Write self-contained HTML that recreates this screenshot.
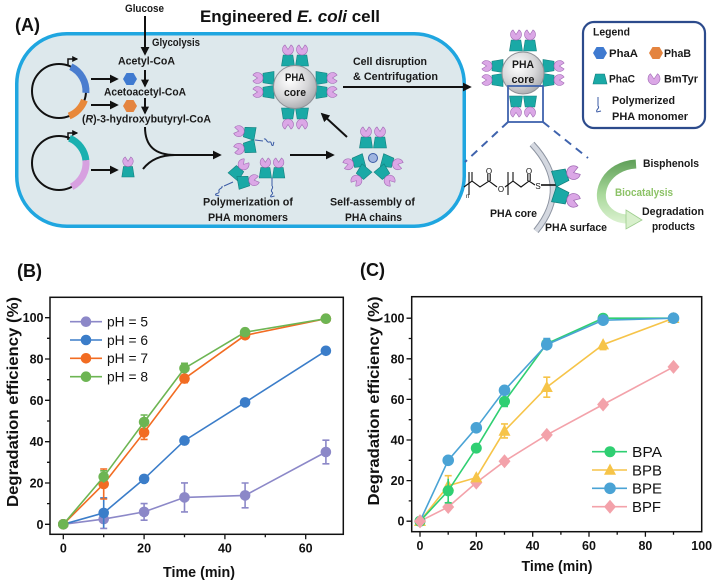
<!DOCTYPE html>
<html><head><meta charset="utf-8"><style>
html,body{margin:0;padding:0;background:#fff;}
svg{display:block;}
text{font-family:"Liberation Sans",Arial,sans-serif;}
</style></head><body>
<svg width="717" height="583" viewBox="0 0 717 583" xmlns="http://www.w3.org/2000/svg">
<defs>
 <marker id="ah" viewBox="0 0 10 10" refX="8" refY="5" markerWidth="4.5" markerHeight="4.5" orient="auto"><path d="M0,0 L10,5 L0,10 z" fill="#111"/></marker>
 <marker id="ahs" viewBox="0 0 10 10" refX="8" refY="5" markerWidth="4" markerHeight="4" orient="auto"><path d="M0,0 L10,5 L0,10 z" fill="#111"/></marker>
 <g id="enz">
  <path d="M-6.5,0 L6.5,0 L4.8,-11 L-4.8,-11Z" fill="#1aa9a6" stroke="#127e7c" stroke-width=".6"/>
  <path d="M0,-16.5 L-3,-21.1 A5.5,5.5 0 1,0 3,-21.1Z" fill="#dba7e6" stroke="#a06ab4" stroke-width=".6"/>
 </g>
 <g id="pair"><use href="#enz" x="-7"/><use href="#enz" x="7"/></g>
 <polygon id="hex" points="7,0 3.5,6 -3.5,6 -7,0 -3.5,-6 3.5,-6"/>
 <path id="sq" d="M0,0 c2.5,2 -2.5,4 0,6 c2.5,2 -3,3.5 -1,5 l3.5,-1" fill="none" stroke="#3b5ba5" stroke-width="1"/>
 <radialGradient id="core" cx="0.38" cy="0.35" r="0.7"><stop offset="0" stop-color="#ffffff"/><stop offset="0.6" stop-color="#d6d6d8"/><stop offset="1" stop-color="#a9aaae"/></radialGradient>
 <linearGradient id="garr" x1="0" y1="160" x2="0" y2="228" gradientUnits="userSpaceOnUse"><stop offset="0" stop-color="#5f9f58"/><stop offset="0.5" stop-color="#a8d89a"/><stop offset="1" stop-color="#e4f6da"/></linearGradient>
</defs>

<!-- ===== Panel A ===== -->
<text x="15" y="31" font-size="18" font-weight="bold" fill="#111">(A)</text>
<text x="125" y="12" font-size="11" font-weight="bold" fill="#1a1a1a" textLength="39" lengthAdjust="spacingAndGlyphs">Glucose</text>
<text x="200" y="22" font-size="16.5" font-weight="bold" fill="#111" textLength="180" lengthAdjust="spacingAndGlyphs">Engineered <tspan font-style="italic">E. coli</tspan> cell</text>

<rect x="16.75" y="33.75" width="447.5" height="192.5" rx="50" ry="50" fill="#dde8ec" stroke="#1fa6e0" stroke-width="3.5"/>

<line x1="145" y1="16" x2="145" y2="54" stroke="#111" stroke-width="2" marker-end="url(#ah)"/>
<text x="152" y="46" font-size="11" font-weight="bold" fill="#1a1a1a" textLength="48" lengthAdjust="spacingAndGlyphs">Glycolysis</text>
<text x="118" y="64.5" font-size="11" font-weight="bold" fill="#1a1a1a" textLength="57" lengthAdjust="spacingAndGlyphs">Acetyl-CoA</text>
<line x1="145" y1="70" x2="145" y2="86" stroke="#111" stroke-width="2" marker-end="url(#ahs)"/>
<text x="104" y="95.3" font-size="11" font-weight="bold" fill="#1a1a1a" textLength="82" lengthAdjust="spacingAndGlyphs">Acetoacetyl-CoA</text>
<line x1="145" y1="98" x2="145" y2="113" stroke="#111" stroke-width="2" marker-end="url(#ahs)"/>
<text x="82" y="122.7" font-size="11" font-weight="bold" fill="#1a1a1a" textLength="129" lengthAdjust="spacingAndGlyphs">(<tspan font-style="italic">R</tspan>)-3-hydroxybutyryl-CoA</text>

<use href="#hex" x="130" y="79" fill="#3f7ad0"/>
<use href="#hex" x="130" y="106" fill="#e4843f"/>

<circle cx="59" cy="91" r="27" fill="none" stroke="#111" stroke-width="2"/>
<path d="M70.8,66.7 A27,27 0 0,1 85.9,92.9" fill="none" stroke="#4a7dcf" stroke-width="7"/>
<path d="M84.4,100.2 A27,27 0 0,1 69.1,116" fill="none" stroke="#e8883a" stroke-width="7"/>
<path d="M68,66 L68,59 L77,59" fill="none" stroke="#111" stroke-width="1.5" marker-end="url(#ahs)"/>
<circle cx="59" cy="163" r="27" fill="none" stroke="#111" stroke-width="2"/>
<path d="M69.5,138.2 A27,27 0 0,1 85.9,160.2" fill="none" stroke="#1bb0b0" stroke-width="7"/>
<path d="M85.9,160.2 A27,27 0 0,1 71.7,186.8" fill="none" stroke="#d7a0e0" stroke-width="7"/>
<path d="M68,140 L68,133 L77,133" fill="none" stroke="#111" stroke-width="1.5" marker-end="url(#ahs)"/>

<line x1="91" y1="79" x2="117" y2="79" stroke="#111" stroke-width="2" marker-end="url(#ah)"/>
<line x1="91" y1="105" x2="117" y2="105" stroke="#111" stroke-width="2" marker-end="url(#ah)"/>
<line x1="91" y1="170" x2="117" y2="170" stroke="#111" stroke-width="2" marker-end="url(#ah)"/>
<use href="#enz" transform="translate(128,177) scale(0.95)"/>

<path d="M145,127 C145,146 155,155 175,155 L220,155" fill="none" stroke="#111" stroke-width="2" marker-end="url(#ah)"/>
<path d="M143,169 C150,160 160,155 175,155" fill="none" stroke="#111" stroke-width="2"/>

<use href="#enz" transform="translate(255,134) rotate(-80)"/>
<use href="#enz" transform="translate(255,146) rotate(-100)"/>
<path d="M255,140 L263,141" stroke="#3b5ba5" stroke-width="1"/>
<use href="#sq" transform="translate(264,139) rotate(-60)"/>
<use href="#enz" transform="translate(233,177) rotate(40)"/>
<use href="#enz" transform="translate(238,183) rotate(80)"/>
<path d="M233,182 L224,186" stroke="#3b5ba5" stroke-width="1"/>
<use href="#sq" transform="translate(222,186) rotate(30)"/>
<use href="#pair" transform="translate(272,178) scale(0.95)"/>
<path d="M272,178 L272,186" stroke="#3b5ba5" stroke-width="1"/>
<use href="#sq" transform="translate(272,186)"/>
<text x="203" y="205.5" font-size="11" font-weight="bold" fill="#1a1a1a" textLength="90" lengthAdjust="spacingAndGlyphs">Polymerization of</text>
<text x="208" y="221" font-size="11" font-weight="bold" fill="#1a1a1a" textLength="80" lengthAdjust="spacingAndGlyphs">PHA monomers</text>

<line x1="290" y1="155" x2="333" y2="155" stroke="#111" stroke-width="2" marker-end="url(#ah)"/>

<use href="#pair" transform="translate(373,148)"/>
<use href="#enz" transform="translate(364,160) rotate(-105)"/>
<use href="#enz" transform="translate(367,168) rotate(-140)"/>
<use href="#enz" transform="translate(382,160) rotate(105)"/>
<use href="#enz" transform="translate(379,168) rotate(140)"/>
<circle cx="373" cy="158" r="4.5" fill="#9fb4e0" stroke="#3b5ba5" stroke-width="1"/>
<text x="330" y="205.5" font-size="11" font-weight="bold" fill="#1a1a1a" textLength="85" lengthAdjust="spacingAndGlyphs">Self-assembly of</text>
<text x="345" y="221" font-size="11" font-weight="bold" fill="#1a1a1a" textLength="57" lengthAdjust="spacingAndGlyphs">PHA chains</text>

<line x1="347" y1="137" x2="322" y2="114" stroke="#111" stroke-width="2" marker-end="url(#ah)"/>

<use href="#pair" transform="translate(295,66)"/>
<use href="#pair" transform="translate(295,108) rotate(180)"/>
<use href="#pair" transform="translate(274,85) rotate(-90)"/>
<use href="#pair" transform="translate(316,85) rotate(90)"/>
<circle cx="295" cy="87" r="21.5" fill="url(#core)" stroke="#8e9096" stroke-width="1"/>
<text x="295" y="81" font-size="11" font-weight="bold" fill="#1a1a1a" text-anchor="middle" textLength="20" lengthAdjust="spacingAndGlyphs">PHA</text>
<text x="295" y="96" font-size="11" font-weight="bold" fill="#1a1a1a" text-anchor="middle" textLength="22" lengthAdjust="spacingAndGlyphs">core</text>

<text x="353" y="65" font-size="11" font-weight="bold" fill="#1a1a1a" textLength="74" lengthAdjust="spacingAndGlyphs">Cell disruption</text>
<text x="353" y="80" font-size="11" font-weight="bold" fill="#1a1a1a" textLength="85" lengthAdjust="spacingAndGlyphs">&amp; Centrifugation</text>
<line x1="343" y1="87" x2="470" y2="87" stroke="#111" stroke-width="2" marker-end="url(#ah)"/>

<use href="#pair" transform="translate(523,51)"/>
<use href="#pair" transform="translate(523,96) rotate(180)"/>
<use href="#pair" transform="translate(503,73) rotate(-90)"/>
<use href="#pair" transform="translate(543,73) rotate(90)"/>
<circle cx="523" cy="73" r="21" fill="url(#core)" stroke="#8e9096" stroke-width="1"/>
<text x="523" y="68" font-size="11" font-weight="bold" fill="#1a1a1a" text-anchor="middle" textLength="22" lengthAdjust="spacingAndGlyphs">PHA</text>
<text x="523" y="83" font-size="11" font-weight="bold" fill="#1a1a1a" text-anchor="middle" textLength="23" lengthAdjust="spacingAndGlyphs">core</text>
<rect x="508" y="86" width="35" height="36" fill="none" stroke="#3f63ad" stroke-width="1.8"/>
<line x1="508" y1="122" x2="465" y2="162" stroke="#3f63ad" stroke-width="2" stroke-dasharray="8,6"/>
<line x1="543" y1="122" x2="588" y2="158" stroke="#3f63ad" stroke-width="2" stroke-dasharray="8,6"/>

<rect x="583" y="22" width="122" height="106" rx="11" ry="11" fill="#fff" stroke="#2c4b8c" stroke-width="2.2"/>
<text x="593" y="35.5" font-size="11" font-weight="bold" fill="#1a1a1a" textLength="37" lengthAdjust="spacingAndGlyphs">Legend</text>
<use href="#hex" x="600" y="53" fill="#3f7ad0"/>
<text x="609" y="57" font-size="11" font-weight="bold" fill="#1a1a1a" textLength="29" lengthAdjust="spacingAndGlyphs">PhaA</text>
<use href="#hex" x="656" y="53" fill="#e4843f"/>
<text x="664" y="57" font-size="11" font-weight="bold" fill="#1a1a1a" textLength="27" lengthAdjust="spacingAndGlyphs">PhaB</text>
<polygon points="593,84 607,84 604.5,74 595.5,74" fill="#1aa9a6" stroke="#127e7c" stroke-width=".6"/>
<text x="609" y="82.5" font-size="11" font-weight="bold" fill="#1a1a1a" textLength="26" lengthAdjust="spacingAndGlyphs">PhaC</text>
<path d="M654,79 L650.5,73.8 A6,6 0 1,0 657.5,73.8Z" fill="#dba7e6" stroke="#a06ab4" stroke-width=".6"/>
<text x="664" y="82.5" font-size="11" font-weight="bold" fill="#1a1a1a" textLength="34" lengthAdjust="spacingAndGlyphs">BmTyr</text>
<path d="M598,97 L598,106 c2.5,2 -3,4 -1,6 l4,-1" fill="none" stroke="#3b5ba5" stroke-width="1"/>
<text x="612" y="104" font-size="11" font-weight="bold" fill="#1a1a1a" textLength="63" lengthAdjust="spacingAndGlyphs">Polymerized</text>
<text x="612" y="120" font-size="11" font-weight="bold" fill="#1a1a1a" textLength="76" lengthAdjust="spacingAndGlyphs">PHA monomer</text>

<path d="M532,144 Q572,187 536,231" fill="none" stroke="#8c93a0" stroke-width="6.5"/>
<path d="M532,144 Q572,187 536,231" fill="none" stroke="#d4d8e0" stroke-width="4.5"/>
<g fill="none" stroke="#111" stroke-width="1.1">
 <path d="M464,187 L472,181 L480,187 L489,181 L497,187"/>
 <path d="M505,187 L513,181 L521,187 L529,181 L535,185"/>
 <path d="M472,181 L472,172"/>
 <path d="M513,181 L513,172"/>
 <path d="M487.8,181 L487.8,174 M490.2,181 L490.2,174"/>
 <path d="M527.8,181 L527.8,174 M530.2,181 L530.2,174"/>
 <path d="M469,172 L469,195 M508,172 L508,195"/>
 <path d="M541,185 L556,185" stroke-width="1.6"/>
</g>
<text x="489" y="174" font-size="8" fill="#111" text-anchor="middle">O</text>
<text x="529" y="174" font-size="8" fill="#111" text-anchor="middle">O</text>
<text x="501" y="192" font-size="8" fill="#111" text-anchor="middle">O</text>
<text x="538" y="189" font-size="8" fill="#111" text-anchor="middle">S</text>
<text x="466" y="198" font-size="6" fill="#111">n</text>
<use href="#enz" transform="translate(554,179) rotate(72) scale(1.25)"/>
<use href="#enz" transform="translate(554,194) rotate(108) scale(1.25)"/>
<text x="490" y="217" font-size="11" font-weight="bold" fill="#1a1a1a" textLength="47" lengthAdjust="spacingAndGlyphs">PHA core</text>
<text x="545" y="231" font-size="11" font-weight="bold" fill="#1a1a1a" textLength="62" lengthAdjust="spacingAndGlyphs">PHA surface</text>
<path d="M636,164 C606,166 596,192 604,206 C610,216 620,219 628,219" fill="none" stroke="url(#garr)" stroke-width="9"/>
<polygon points="626,210 642,220 626,229" fill="#d8f0cc" stroke="#9ccc8c" stroke-width=".8"/>
<text x="643" y="167" font-size="11" font-weight="bold" fill="#1a1a1a" textLength="56" lengthAdjust="spacingAndGlyphs">Bisphenols</text>
<text x="615" y="196" font-size="11" font-weight="bold" fill="#8cc266" textLength="58" lengthAdjust="spacingAndGlyphs">Biocatalysis</text>
<text x="642" y="215" font-size="11" font-weight="bold" fill="#1a1a1a" textLength="62" lengthAdjust="spacingAndGlyphs">Degradation</text>
<text x="652" y="230" font-size="11" font-weight="bold" fill="#1a1a1a" textLength="43" lengthAdjust="spacingAndGlyphs">products</text>

<!-- ===== Panel B ===== -->
<text x="17" y="277" font-size="18" font-weight="bold" fill="#111">(B)</text>
<rect x="50" y="297.3" width="293.3" height="237" fill="none" stroke="#111" stroke-width="1.5"/>
<g stroke="#111" stroke-width="1.3">
 <path d="M45,524.3H50M45,483H50M45,441.7H50M45,400.3H50M45,359H50M45,317.7H50"/>
 <path d="M47,503.6H50M47,462.3H50M47,421H50M47,379.7H50M47,338.3H50"/>
 <path d="M63.3,534.3V539.3M144.1,534.3V539.3M224.9,534.3V539.3M305.7,534.3V539.3"/>
 <path d="M103.7,534.3V537.3M184.5,534.3V537.3M265.3,534.3V537.3"/>
</g>
<g font-size="12.5" font-weight="bold" fill="#111" text-anchor="end">
 <text x="43.5" y="528.8">0</text><text x="43.5" y="487.5">20</text><text x="43.5" y="446.2">40</text>
 <text x="43.5" y="404.8">60</text><text x="43.5" y="363.5">80</text><text x="43.5" y="322.2">100</text>
</g>
<g font-size="12.5" font-weight="bold" fill="#111" text-anchor="middle">
 <text x="63.3" y="552.5">0</text><text x="144.1" y="552.5">20</text><text x="224.9" y="552.5">40</text><text x="305.7" y="552.5">60</text>
</g>
<text x="199" y="577" font-size="15" font-weight="bold" fill="#111" text-anchor="middle" textLength="72" lengthAdjust="spacingAndGlyphs">Time (min)</text>
<text transform="translate(18,402) rotate(-90)" font-size="16" font-weight="bold" fill="#111" text-anchor="middle" textLength="210" lengthAdjust="spacingAndGlyphs">Degradation efficiency (%)</text>

<g stroke="#8c88c8" fill="#8c88c8" stroke-width="1.6">
 <polyline fill="none" points="63.3,524.3 103.7,519.1 144.1,511.9 184.5,497.4 245.1,495.4 325.9,452"/>
 <path fill="none" d="M103.7,509.8V528.4M100.2,509.8h7M100.2,528.4h7 M144.1,503.6V520.2M140.6,503.6h7M140.6,520.2h7 M184.5,482.9V511.9M181,482.9h7M181,511.9h7 M245.1,483V507.8M241.6,483h7M241.6,507.8h7 M325.9,440.2V463.8M322.4,440.2h7M322.4,463.8h7"/>
 <circle cx="63.3" cy="524.3" r="5.3" stroke="none"/><circle cx="103.7" cy="519.1" r="5.3" stroke="none"/><circle cx="144.1" cy="511.9" r="5.3" stroke="none"/><circle cx="184.5" cy="497.4" r="5.3" stroke="none"/><circle cx="245.1" cy="495.4" r="5.3" stroke="none"/><circle cx="325.9" cy="452" r="5.3" stroke="none"/>
</g>
<g stroke="#3b7dc9" fill="#3b7dc9" stroke-width="1.6">
 <polyline fill="none" points="63.3,524.3 103.7,512.9 144.1,478.9 184.5,440.6 245.1,402.4 325.9,350.8"/>
 <path fill="none" d="M103.7,497.9V527.9M100.2,497.9h7"/>
 <circle cx="63.3" cy="524.3" r="5.3" stroke="none"/><circle cx="103.7" cy="512.9" r="5.3" stroke="none"/><circle cx="144.1" cy="478.9" r="5.3" stroke="none"/><circle cx="184.5" cy="440.6" r="5.3" stroke="none"/><circle cx="245.1" cy="402.4" r="5.3" stroke="none"/><circle cx="325.9" cy="350.8" r="5.3" stroke="none"/>
</g>
<g stroke="#f26c22" fill="#f26c22" stroke-width="1.6">
 <polyline fill="none" points="63.3,524.3 103.7,484 144.1,432.4 184.5,378.6 245.1,335.3 325.9,318.7"/>
 <path fill="none" d="M103.7,469V499M100.2,469h7M100.2,499h7 M144.1,425.4V439.4M140.6,425.4h7M140.6,439.4h7 M184.5,374.6V382.6M181,382.6h7"/>
 <circle cx="63.3" cy="524.3" r="5.3" stroke="none"/><circle cx="103.7" cy="484" r="5.3" stroke="none"/><circle cx="144.1" cy="432.4" r="5.3" stroke="none"/><circle cx="184.5" cy="378.6" r="5.3" stroke="none"/><circle cx="245.1" cy="335.3" r="5.3" stroke="none"/><circle cx="325.9" cy="318.7" r="5.3" stroke="none"/>
</g>
<g stroke="#6db553" fill="#6db553" stroke-width="1.6">
 <polyline fill="none" points="63.3,524.3 103.7,476.8 144.1,422 184.5,368.3 245.1,332.2 325.9,318.7"/>
 <path fill="none" d="M103.7,470.8V482.8M100.2,470.8h7 M144.1,415V429M140.6,415h7 M184.5,363.3V373.3M181,363.3h7"/>
 <circle cx="63.3" cy="524.3" r="5.3" stroke="none"/><circle cx="103.7" cy="476.8" r="5.3" stroke="none"/><circle cx="144.1" cy="422" r="5.3" stroke="none"/><circle cx="184.5" cy="368.3" r="5.3" stroke="none"/><circle cx="245.1" cy="332.2" r="5.3" stroke="none"/><circle cx="325.9" cy="318.7" r="5.3" stroke="none"/>
</g>
<g stroke-width="1.6">
 <line x1="70" y1="321.7" x2="102" y2="321.7" stroke="#8c88c8"/><circle cx="86" cy="321.7" r="5.3" fill="#8c88c8"/>
 <line x1="70" y1="340" x2="102" y2="340" stroke="#3b7dc9"/><circle cx="86" cy="340" r="5.3" fill="#3b7dc9"/>
 <line x1="70" y1="358.3" x2="102" y2="358.3" stroke="#f26c22"/><circle cx="86" cy="358.3" r="5.3" fill="#f26c22"/>
 <line x1="70" y1="376.7" x2="102" y2="376.7" stroke="#6db553"/><circle cx="86" cy="376.7" r="5.3" fill="#6db553"/>
</g>
<g font-size="14" fill="#111">
 <text x="107" y="326.5" textLength="41" lengthAdjust="spacingAndGlyphs">pH = 5</text>
 <text x="107" y="344.8" textLength="41" lengthAdjust="spacingAndGlyphs">pH = 6</text>
 <text x="107" y="363.1" textLength="41" lengthAdjust="spacingAndGlyphs">pH = 7</text>
 <text x="107" y="381.5" textLength="41" lengthAdjust="spacingAndGlyphs">pH = 8</text>
</g>

<!-- ===== Panel C ===== -->
<text x="360" y="276" font-size="18" font-weight="bold" fill="#111">(C)</text>
<rect x="411.7" y="296.7" width="290" height="235" fill="none" stroke="#111" stroke-width="1.5"/>
<g stroke="#111" stroke-width="1.3">
 <path d="M406.5,521.2H411.7M406.5,480.6H411.7M406.5,440H411.7M406.5,399.4H411.7M406.5,358.8H411.7M406.5,318.2H411.7"/>
 <path d="M408.7,500.9H411.7M408.7,460.3H411.7M408.7,419.7H411.7M408.7,379.1H411.7M408.7,338.5H411.7"/>
 <path d="M420,531.7V536.7M476.3,531.7V536.7M532.7,531.7V536.7M589,531.7V536.7M645.4,531.7V536.7"/>
 <path d="M448.2,531.7V534.7M504.5,531.7V534.7M560.9,531.7V534.7M617.2,531.7V534.7M673.5,531.7V534.7"/>
</g>
<g font-size="12.5" font-weight="bold" fill="#111" text-anchor="end">
 <text x="404.5" y="525.7">0</text><text x="404.5" y="485.1">20</text><text x="404.5" y="444.5">40</text>
 <text x="404.5" y="403.9">60</text><text x="404.5" y="363.3">80</text><text x="404.5" y="322.7">100</text>
</g>
<g font-size="12.5" font-weight="bold" fill="#111" text-anchor="middle">
 <text x="420" y="550">0</text><text x="476.3" y="550">20</text><text x="532.7" y="550">40</text><text x="589" y="550">60</text><text x="645.4" y="550">80</text><text x="701.7" y="550">100</text>
</g>
<text x="557" y="571" font-size="15" font-weight="bold" fill="#111" text-anchor="middle" textLength="71" lengthAdjust="spacingAndGlyphs">Time (min)</text>
<text transform="translate(379,401) rotate(-90)" font-size="16" font-weight="bold" fill="#111" text-anchor="middle" textLength="209" lengthAdjust="spacingAndGlyphs">Degradation efficiency (%)</text>

<g stroke="#f3a2aa" fill="#f3a2aa" stroke-width="1.6">
 <polyline fill="none" points="420,521.2 448.2,507 476.3,482.6 504.5,461.3 546.8,434.9 603.1,404.5 673.5,366.9"/>
 <g stroke="none">
  <polygon points="420,514.2 426,521.2 420,528.2 414,521.2"/><polygon points="448.2,500 454.2,507 448.2,514 442.2,507"/><polygon points="476.3,475.6 482.3,482.6 476.3,489.6 470.3,482.6"/><polygon points="504.5,454.3 510.5,461.3 504.5,468.3 498.5,461.3"/><polygon points="546.8,427.9 552.8,434.9 546.8,441.9 540.8,434.9"/><polygon points="603.1,397.5 609.1,404.5 603.1,411.5 597.1,404.5"/><polygon points="673.5,359.9 679.5,366.9 673.5,373.9 667.5,366.9"/>
 </g>
</g>
<g stroke="#f6c449" fill="#f6c449" stroke-width="1.6">
 <polyline fill="none" points="420,521.2 448.2,485.7 476.3,477.6 504.5,430.9 546.8,387.2 603.1,344.6 673.5,318.2"/>
 <path fill="none" d="M448.2,475.7V495.7M444.7,475.7h7 M504.5,423.9V437.9M501,423.9h7M501,437.9h7 M546.8,377.2V397.2M543.3,377.2h7M543.3,397.2h7 M603.1,339.6V349.6M599.6,349.6h7"/>
 <g stroke="none">
  <polygon points="420,514.7 426,526 414,526"/><polygon points="448.2,479.2 454.2,490.5 442.2,490.5"/><polygon points="476.3,471.1 482.3,482.4 470.3,482.4"/><polygon points="504.5,424.4 510.5,435.7 498.5,435.7"/><polygon points="546.8,380.7 552.8,392 540.8,392"/><polygon points="603.1,338.1 609.1,349.4 597.1,349.4"/><polygon points="673.5,311.7 679.5,323 667.5,323"/>
 </g>
</g>
<g stroke="#2fcf72" fill="#2fcf72" stroke-width="1.6">
 <polyline fill="none" points="420,521.2 448.2,490.8 476.3,448.1 504.5,401.4 546.8,343.6 603.1,318.2 673.5,318.2"/>
 <path fill="none" d="M448.2,478.8V502.8M444.7,502.8h7 M504.5,396.4V406.4M501,406.4h7"/>
 <g stroke="none">
  <circle cx="420" cy="521.2" r="5.5"/><circle cx="448.2" cy="490.8" r="5.5"/><circle cx="476.3" cy="448.1" r="5.5"/><circle cx="504.5" cy="401.4" r="5.5"/><circle cx="546.8" cy="343.6" r="5.5"/><circle cx="603.1" cy="318.2" r="5.5"/><circle cx="673.5" cy="318.2" r="5.5"/>
 </g>
</g>
<g stroke="#4aa3d5" fill="#4aa3d5" stroke-width="1.6">
 <polyline fill="none" points="420,521.2 448.2,460.3 476.3,427.8 504.5,390.3 546.8,344.6 603.1,320.2 673.5,318.2"/>
 <path fill="none" d="M546.8,338.6V350.6M543.3,338.6h7"/>
 <g stroke="none">
  <circle cx="448.2" cy="460.3" r="5.8"/><circle cx="476.3" cy="427.8" r="5.8"/><circle cx="504.5" cy="390.3" r="5.8"/><circle cx="546.8" cy="344.6" r="5.8"/><circle cx="603.1" cy="320.2" r="5.8"/><circle cx="673.5" cy="318.2" r="5.8"/>
 </g>
</g>
<polygon points="420,514.2 426,521.2 420,528.2 414,521.2" fill="#f3a2aa"/>
<g stroke-width="1.6">
 <line x1="592" y1="451.7" x2="627" y2="451.7" stroke="#2fcf72"/><circle cx="610" cy="451.7" r="5.5" fill="#2fcf72"/>
 <line x1="592" y1="470" x2="627" y2="470" stroke="#f6c449"/><polygon points="610,463.5 616,474.8 604,474.8" fill="#f6c449"/>
 <line x1="592" y1="488.3" x2="627" y2="488.3" stroke="#4aa3d5"/><circle cx="610" cy="488.3" r="5.8" fill="#4aa3d5"/>
 <line x1="592" y1="506.7" x2="627" y2="506.7" stroke="#f3a2aa"/><polygon points="610,499.7 616,506.7 610,513.7 604,506.7" fill="#f3a2aa"/>
</g>
<g font-size="15" fill="#111">
 <text x="632" y="457" textLength="30" lengthAdjust="spacingAndGlyphs">BPA</text>
 <text x="632" y="475.3" textLength="30" lengthAdjust="spacingAndGlyphs">BPB</text>
 <text x="632" y="493.6" textLength="30" lengthAdjust="spacingAndGlyphs">BPE</text>
 <text x="632" y="512" textLength="29" lengthAdjust="spacingAndGlyphs">BPF</text>
</g>
</svg>
</body></html>
